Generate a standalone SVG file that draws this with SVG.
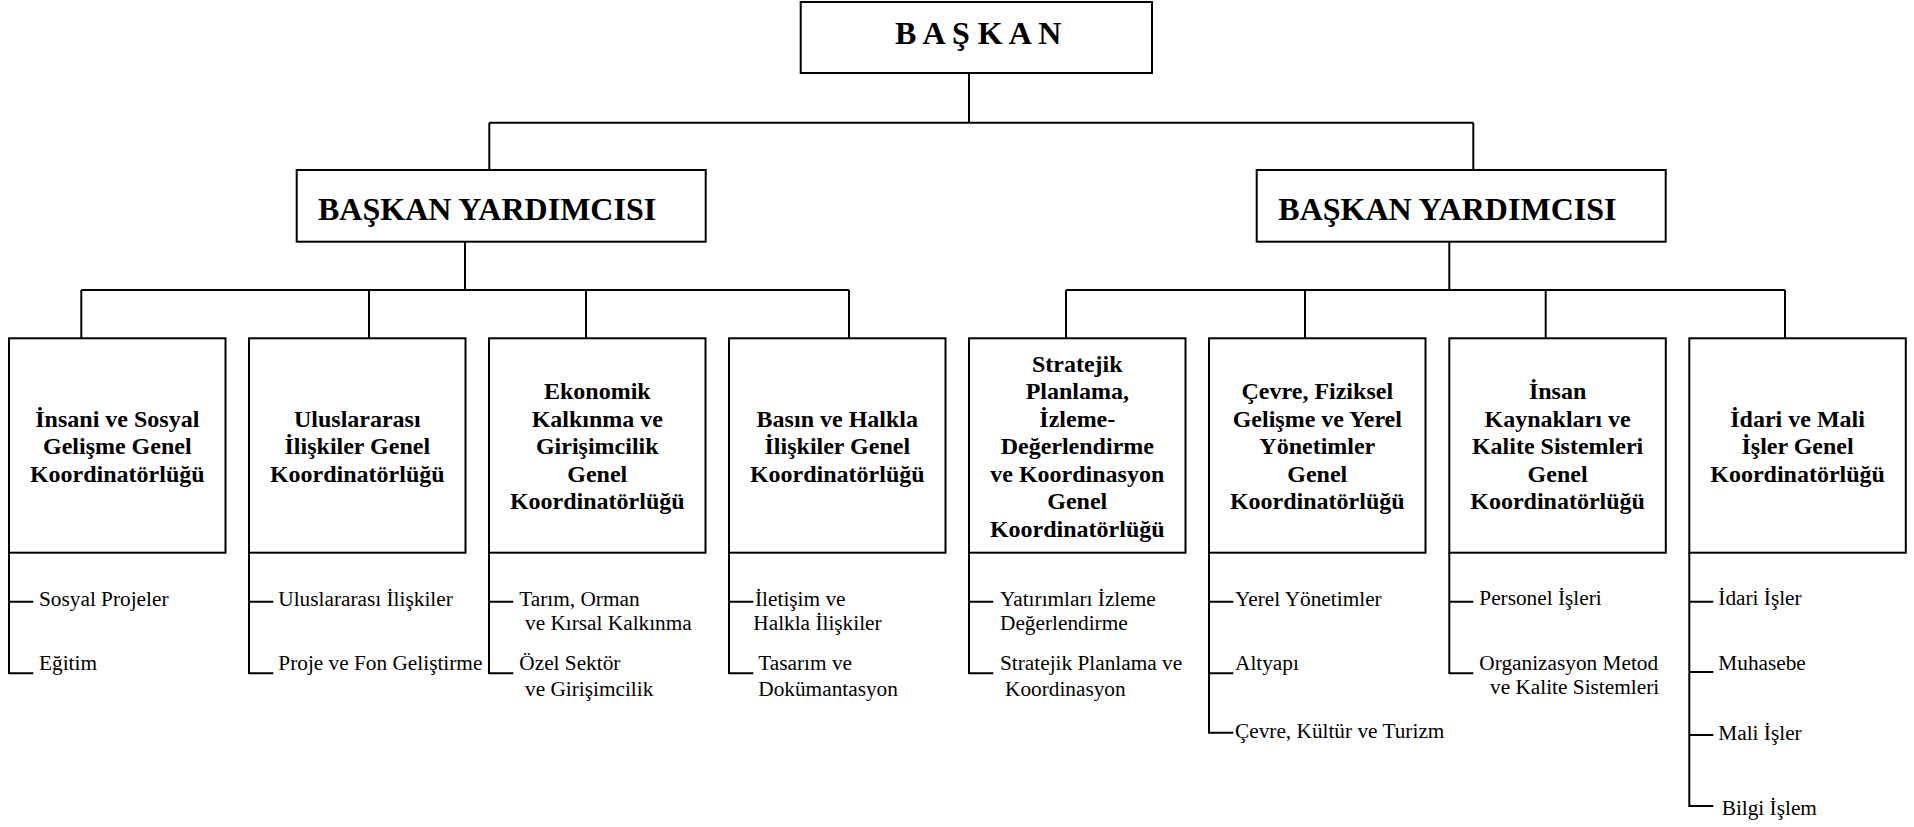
<svg xmlns="http://www.w3.org/2000/svg" width="1914" height="827" viewBox="0 0 1914 827">
<style>
.box{fill:#fff;stroke:#000;stroke-width:2}
.ln{stroke:#000;stroke-width:2;fill:none}
.t{font-family:"Liberation Serif","Times New Roman",serif;fill:#000}
.b{font-weight:bold;font-size:24px;text-anchor:middle}
.s{font-size:21.3px}
.h{font-weight:bold;font-size:32px}
</style>
<rect width="1914" height="827" fill="#fff"/>
<g id="connectors" class="ln">
<path d="M969 73V122.7M489.3 122.7H1473.3M489.3 122.7V170M1473.3 122.7V170"/>
<path d="M465 241.7V290M81.3 290H849M81.3 290V338.3M369 290V338.3M586 290V338.3M849 290V338.3"/>
<path d="M1449.3 241.7V290M1066 290H1785M1066 290V338.3M1305 290V338.3M1545.7 290V338.3M1785 290V338.3"/>
<path d="M9 552.7V674M9 601.7H33.3M9 673.3H33.3"/>
<path d="M249 552.7V674M249 601.7H273.3M249 673.3H273.3"/>
<path d="M489 552.7V674M489 601.7H513.3M489 673.3H513.3"/>
<path d="M729 552.7V674M729 601.7H753.3M729 673.3H753.3"/>
<path d="M969 552.7V674M969 601.7H993.3M969 673.3H993.3"/>
<path d="M1209 552.7V733.7M1209 601.7H1233.3M1209 673.3H1233.3M1209 732.7H1233.3"/>
<path d="M1449.3 552.7V674M1449.3 601.7H1473.3M1449.3 673.3H1473.3"/>
<path d="M1689.3 552.7V807M1689.3 601.7H1713.3M1689.3 672H1713.3M1689.3 735H1713.3M1689.3 806H1713.3"/>
</g>
<g id="baskan">
<rect class="box" x="800.7" y="2" width="351.3" height="71"/>
<text class="t h" x="895" y="44">B A Ş K A N</text>
</g>
<g id="vp-left">
<rect class="box" x="296.7" y="170" width="409" height="71.7"/>
<text class="t h" x="318" y="220">BAŞKAN YARDIMCISI</text>
</g>
<g id="vp-right">
<rect class="box" x="1256.7" y="170" width="409" height="71.7"/>
<text class="t h" x="1278.3" y="220">BAŞKAN YARDIMCISI</text>
</g>
<g id="gk1">
<rect class="box" x="9" y="338.3" width="216.5" height="214.4"/>
<text class="t b"><tspan x="117.3" y="426.7">İnsani ve Sosyal</tspan><tspan x="117.3" y="454">Gelişme Genel</tspan><tspan x="117.3" y="481.7">Koordinatörlüğü</tspan></text>
<text class="t s"><tspan x="39" y="606">Sosyal Projeler</tspan><tspan x="39" y="670">Eğitim</tspan></text>
</g>
<g id="gk2">
<rect class="box" x="249" y="338.3" width="216.5" height="214.4"/>
<text class="t b"><tspan x="357.3" y="426.7">Uluslararası</tspan><tspan x="357.3" y="454">İlişkiler Genel</tspan><tspan x="357.3" y="481.7">Koordinatörlüğü</tspan></text>
<text class="t s"><tspan x="278.3" y="606">Uluslararası İlişkiler</tspan><tspan x="278.3" y="670">Proje ve Fon Geliştirme</tspan></text>
</g>
<g id="gk3">
<rect class="box" x="489" y="338.3" width="216.5" height="214.4"/>
<text class="t b"><tspan x="597.3" y="399">Ekonomik</tspan><tspan x="597.3" y="426.7">Kalkınma ve</tspan><tspan x="597.3" y="454">Girişimcilik</tspan><tspan x="597.3" y="481.7">Genel</tspan><tspan x="597.3" y="509.3">Koordinatörlüğü</tspan></text>
<text class="t s"><tspan x="519.3" y="606">Tarım, Orman</tspan><tspan x="525" y="630">ve Kırsal Kalkınma</tspan><tspan x="519.3" y="670">Özel Sektör</tspan><tspan x="525" y="695.7">ve Girişimcilik</tspan></text>
</g>
<g id="gk4">
<rect class="box" x="729" y="338.3" width="216.5" height="214.4"/>
<text class="t b"><tspan x="837.3" y="426.7">Basın ve Halkla</tspan><tspan x="837.3" y="454">İlişkiler Genel</tspan><tspan x="837.3" y="481.7">Koordinatörlüğü</tspan></text>
<text class="t s"><tspan x="755" y="606">İletişim ve</tspan><tspan x="753.3" y="630">Halkla İlişkiler</tspan><tspan x="758.3" y="670">Tasarım ve</tspan><tspan x="758.3" y="695.7">Dokümantasyon</tspan></text>
</g>
<g id="gk5">
<rect class="box" x="969" y="338.3" width="216.5" height="214.4"/>
<text class="t b"><tspan x="1077.3" y="371.7">Stratejik</tspan><tspan x="1077.3" y="399">Planlama,</tspan><tspan x="1077.3" y="426.7">İzleme-</tspan><tspan x="1077.3" y="454">Değerlendirme</tspan><tspan x="1077.3" y="481.7">ve Koordinasyon</tspan><tspan x="1077.3" y="509.3">Genel</tspan><tspan x="1077.3" y="536.7">Koordinatörlüğü</tspan></text>
<text class="t s"><tspan x="1000" y="606">Yatırımları İzleme</tspan><tspan x="1000" y="630">Değerlendirme</tspan><tspan x="1000" y="670">Stratejik Planlama ve</tspan><tspan x="1005" y="695.7">Koordinasyon</tspan></text>
</g>
<g id="gk6">
<rect class="box" x="1209" y="338.3" width="216.5" height="214.4"/>
<text class="t b"><tspan x="1317.3" y="399">Çevre, Fiziksel</tspan><tspan x="1317.3" y="426.7">Gelişme ve Yerel</tspan><tspan x="1317.3" y="454">Yönetimler</tspan><tspan x="1317.3" y="481.7">Genel</tspan><tspan x="1317.3" y="509.3">Koordinatörlüğü</tspan></text>
<text class="t s"><tspan x="1235" y="606">Yerel Yönetimler</tspan><tspan x="1235" y="670">Altyapı</tspan><tspan x="1235" y="738">Çevre, Kültür ve Turizm</tspan></text>
</g>
<g id="gk7">
<rect class="box" x="1449.3" y="338.3" width="216.5" height="214.4"/>
<text class="t b"><tspan x="1557.6" y="399">İnsan</tspan><tspan x="1557.6" y="426.7">Kaynakları ve</tspan><tspan x="1557.6" y="454">Kalite Sistemleri</tspan><tspan x="1557.6" y="481.7">Genel</tspan><tspan x="1557.6" y="509.3">Koordinatörlüğü</tspan></text>
<text class="t s"><tspan x="1479.3" y="605">Personel İşleri</tspan><tspan x="1479.3" y="670">Organizasyon Metod</tspan><tspan x="1490" y="694">ve Kalite Sistemleri</tspan></text>
</g>
<g id="gk8">
<rect class="box" x="1689.3" y="338.3" width="216.5" height="214.4"/>
<text class="t b"><tspan x="1797.6" y="426.7">İdari ve Mali</tspan><tspan x="1797.6" y="454">İşler Genel</tspan><tspan x="1797.6" y="481.7">Koordinatörlüğü</tspan></text>
<text class="t s"><tspan x="1718.3" y="605">İdari İşler</tspan><tspan x="1718.3" y="670">Muhasebe</tspan><tspan x="1718.3" y="740">Mali İşler</tspan><tspan x="1721.7" y="815">Bilgi İşlem</tspan></text>
</g>
</svg>
